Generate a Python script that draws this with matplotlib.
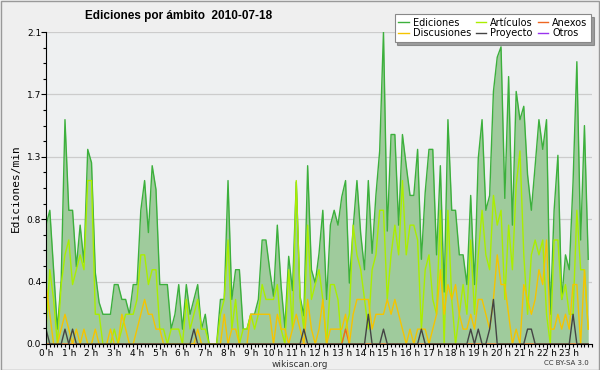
import numpy as np
import matplotlib
matplotlib.use('Agg')
import matplotlib.pyplot as plt
from matplotlib.ticker import MultipleLocator, FixedLocator
from matplotlib.lines import Line2D

# 10-minute bins, edits per minute
ediciones = [0.8, 0.9, 0.5, 0.1, 0.43, 1.51, 0.9, 0.9, 0.52, 0.8, 0.55, 1.31, 1.22, 0.48, 0.28, 0.2,
             0.2, 0.2, 0.4, 0.4, 0.3, 0.3, 0.2, 0.4, 0.4, 0.9, 1.1, 0.75, 1.2, 1.04, 0.4, 0.4,
             0.4, 0.1, 0.2, 0.4, 0.1, 0.4, 0.2, 0.3, 0.4, 0.1, 0.2, 0.0, 0.0, 0.0, 0.3, 0.3,
             1.1, 0.3, 0.5, 0.5, 0.1, 0.1, 0.2, 0.2, 0.3, 0.7, 0.7, 0.5, 0.32, 0.8, 0.39, 0.11,
             0.59, 0.36, 1.09, 0.32, 0.19, 1.2, 0.5, 0.41, 0.61, 0.9, 0.3, 0.8, 0.9, 0.8, 0.99, 1.1,
             0.41, 0.78, 1.1, 0.74, 0.5, 1.1, 0.61, 1.0, 1.3, 2.1, 0.76, 1.41, 1.41, 0.8, 1.41, 1.2,
             1.0, 1.0, 1.31, 0.57, 1.02, 1.31, 1.31, 0.6, 1.2, 0.35, 1.51, 0.9, 0.9, 0.6, 0.6, 0.4,
             1.0, 0.4, 1.25, 1.51, 0.9, 1.0, 1.7, 1.93, 2.0, 0.98, 1.8, 0.8, 1.7, 1.51, 1.6, 1.14,
             0.9, 1.2, 1.51, 1.31, 1.51, 0.2, 0.9, 1.27, 0.3, 0.6, 0.5, 1.09, 1.9, 0.7, 1.47, 0.57]
articulos = [0.1, 0.5, 0.3, 0.0, 0.4, 0.6, 0.7, 0.4, 0.5, 0.6, 0.5, 1.1, 1.1, 0.2, 0.2, 0.0,
             0.0, 0.0, 0.1, 0.0, 0.1, 0.2, 0.2, 0.2, 0.3, 0.6, 0.6, 0.4, 0.5, 0.5, 0.1, 0.1,
             0.0, 0.1, 0.1, 0.1, 0.0, 0.3, 0.1, 0.2, 0.3, 0.1, 0.1, 0.0, 0.0, 0.0, 0.2, 0.3,
             0.7, 0.1, 0.3, 0.0, 0.1, 0.1, 0.2, 0.1, 0.2, 0.4, 0.3, 0.3, 0.3, 0.4, 0.1, 0.0,
             0.5, 0.1, 1.1, 0.3, 0.1, 0.8, 0.3, 0.4, 0.5, 0.3, 0.0, 0.4, 0.4, 0.3, 0.0, 0.1,
             0.2, 0.8, 0.6, 0.5, 0.3, 0.1, 0.5, 0.6, 0.9, 0.9, 0.3, 0.6, 0.8, 0.6, 1.1, 0.6,
             0.8, 0.8, 0.7, 0.1, 0.5, 0.6, 0.3, 0.2, 0.9, 0.0, 0.9, 0.3, 0.0, 0.2, 0.4, 0.2,
             0.7, 0.2, 0.6, 0.9, 0.6, 0.5, 1.0, 0.8, 0.9, 0.3, 0.8, 0.5, 1.07, 1.3, 0.6, 0.2,
             0.6, 0.7, 0.6, 0.7, 0.2, 0.0, 0.7, 0.7, 0.3, 0.4, 0.2, 0.2, 0.9, 0.5, 0.5, 0.1]
discusiones = [0.4, 0.2, 0.0, 0.0, 0.1, 0.2, 0.1, 0.0, 0.1, 0.0, 0.1, 0.0, 0.0, 0.1, 0.0, 0.0,
               0.0, 0.1, 0.0, 0.0, 0.2, 0.1, 0.0, 0.0, 0.1, 0.2, 0.3, 0.2, 0.2, 0.1, 0.1, 0.0,
               0.0, 0.0, 0.0, 0.0, 0.0, 0.0, 0.0, 0.0, 0.1, 0.0, 0.0, 0.0, 0.0, 0.0, 0.0, 0.2,
               0.0, 0.1, 0.1, 0.0, 0.0, 0.0, 0.2, 0.2, 0.2, 0.2, 0.2, 0.2, 0.0, 0.2, 0.1, 0.1,
               0.0, 0.1, 0.2, 0.1, 0.0, 0.3, 0.1, 0.0, 0.1, 0.3, 0.0, 0.1, 0.1, 0.1, 0.1, 0.2,
               0.0, 0.2, 0.3, 0.3, 0.3, 0.3, 0.1, 0.2, 0.2, 0.2, 0.3, 0.2, 0.3, 0.2, 0.1, 0.0,
               0.1, 0.0, 0.1, 0.1, 0.1, 0.0, 0.1, 0.2, 0.5, 0.2, 0.4, 0.3, 0.4, 0.2, 0.1, 0.1,
               0.2, 0.1, 0.3, 0.3, 0.2, 0.1, 0.3, 0.6, 0.4, 0.4, 0.2, 0.0, 0.1, 0.0, 0.4, 0.3,
               0.2, 0.3, 0.5, 0.4, 0.7, 0.1, 0.1, 0.2, 0.1, 0.2, 0.1, 0.4, 0.4, 0.0, 0.5, 0.1]
proyecto = [0.0] * 144
for i, v in [(0, 0.1), (5, 0.1), (7, 0.1), (39, 0.1), (68, 0.1), (85, 0.2), (89, 0.1), (99, 0.1),
             (112, 0.1), (114, 0.1), (117, 0.1), (118, 0.3), (127, 0.1), (128, 0.1), (139, 0.2)]:
    proyecto[i] = v
anexos = [0.0] * 144
anexos[79] = 0.1
otros = [0.0] * 144

hours = np.arange(144) / 6.0
hour_labels = ['%d h' % h for h in range(24)]

fig = plt.figure(figsize=(6, 3.7), dpi=100, facecolor='#efefef')
ax = fig.add_axes([0.0767, 0.0703, 0.91, 0.8432], facecolor='#eef0f1')

ax.fill_between(hours, ediciones, color='#9fcb9c', lw=0)
ax.plot(hours, ediciones, color='#3cb03c', lw=1)
ax.plot(hours, articulos, color='#aaee00', lw=1)
ax.plot(hours, anexos, color='#ee6622', lw=1)
ax.plot(hours, discusiones, color='#f5c400', lw=1)
ax.plot(hours, proyecto, color='#444444', lw=1)

ax.set_xlim(0, 24)
ax.set_ylim(0, 2.1)
ax.set_xticks(range(24))
ax.set_xticklabels(hour_labels, fontsize=6.5)
ax.xaxis.set_minor_locator(MultipleLocator(1 / 6.0))
yt = np.linspace(0, 2.1, 6)
ax.yaxis.set_major_locator(FixedLocator(yt))
ax.set_yticklabels(['%.1f' % v for v in yt], fontsize=6.5)
ax.yaxis.set_minor_locator(MultipleLocator(0.105))
ax.tick_params(which='major', length=3.5, width=0.8, pad=0)
ax.tick_params(which='minor', length=2.5, width=0.8)
ax.grid(axis='y', color='#cccccc', lw=0.9)
ax.set_axisbelow(True)
for s in ['top', 'right']:
    ax.spines[s].set_visible(False)

ax.set_ylabel('Ediciones/min', fontsize=8, family='DejaVu Sans Mono', labelpad=4)
fig.text(0.142, 0.956, 'Ediciones por ámbito  2010-07-18', fontsize=8.5, fontweight='bold',
         family='Liberation Sans', va='center')
fig.text(0.5, 0.016, 'wikiscan.org', fontsize=6.5, ha='center', va='center', color='#333333')
fig.text(0.982, 0.02, 'CC BY-SA 3.0', fontsize=5, ha='right', va='center', color='#333333')

colors = {'Ediciones': '#3cb03c', 'Discusiones': '#f5c400', 'Artículos': '#aaee00',
          'Proyecto': '#444444', 'Anexos': '#ee6622', 'Otros': '#9933ee'}
order = ['Ediciones', 'Discusiones', 'Artículos', 'Proyecto', 'Anexos', 'Otros']
handles = [Line2D([], [], color=colors[k], lw=1) for k in order]
leg = fig.legend(handles, order, ncol=3, loc='upper right', bbox_to_anchor=(0.993, 0.975),
                 fontsize=7, frameon=True, fancybox=False, shadow=True, handlelength=1.1,
                 handletextpad=0.4, columnspacing=0.5, labelspacing=0.1, borderpad=0.35)
leg.get_frame().set_edgecolor('#888888')
leg.get_frame().set_linewidth(0.8)

fig.patches.append(plt.Rectangle((0.001, 0.001), 0.997, 0.997, transform=fig.transFigure,
                                 fill=False, edgecolor='#999999', lw=1))
fig.savefig('out.png', dpi=100, facecolor=fig.get_facecolor())
